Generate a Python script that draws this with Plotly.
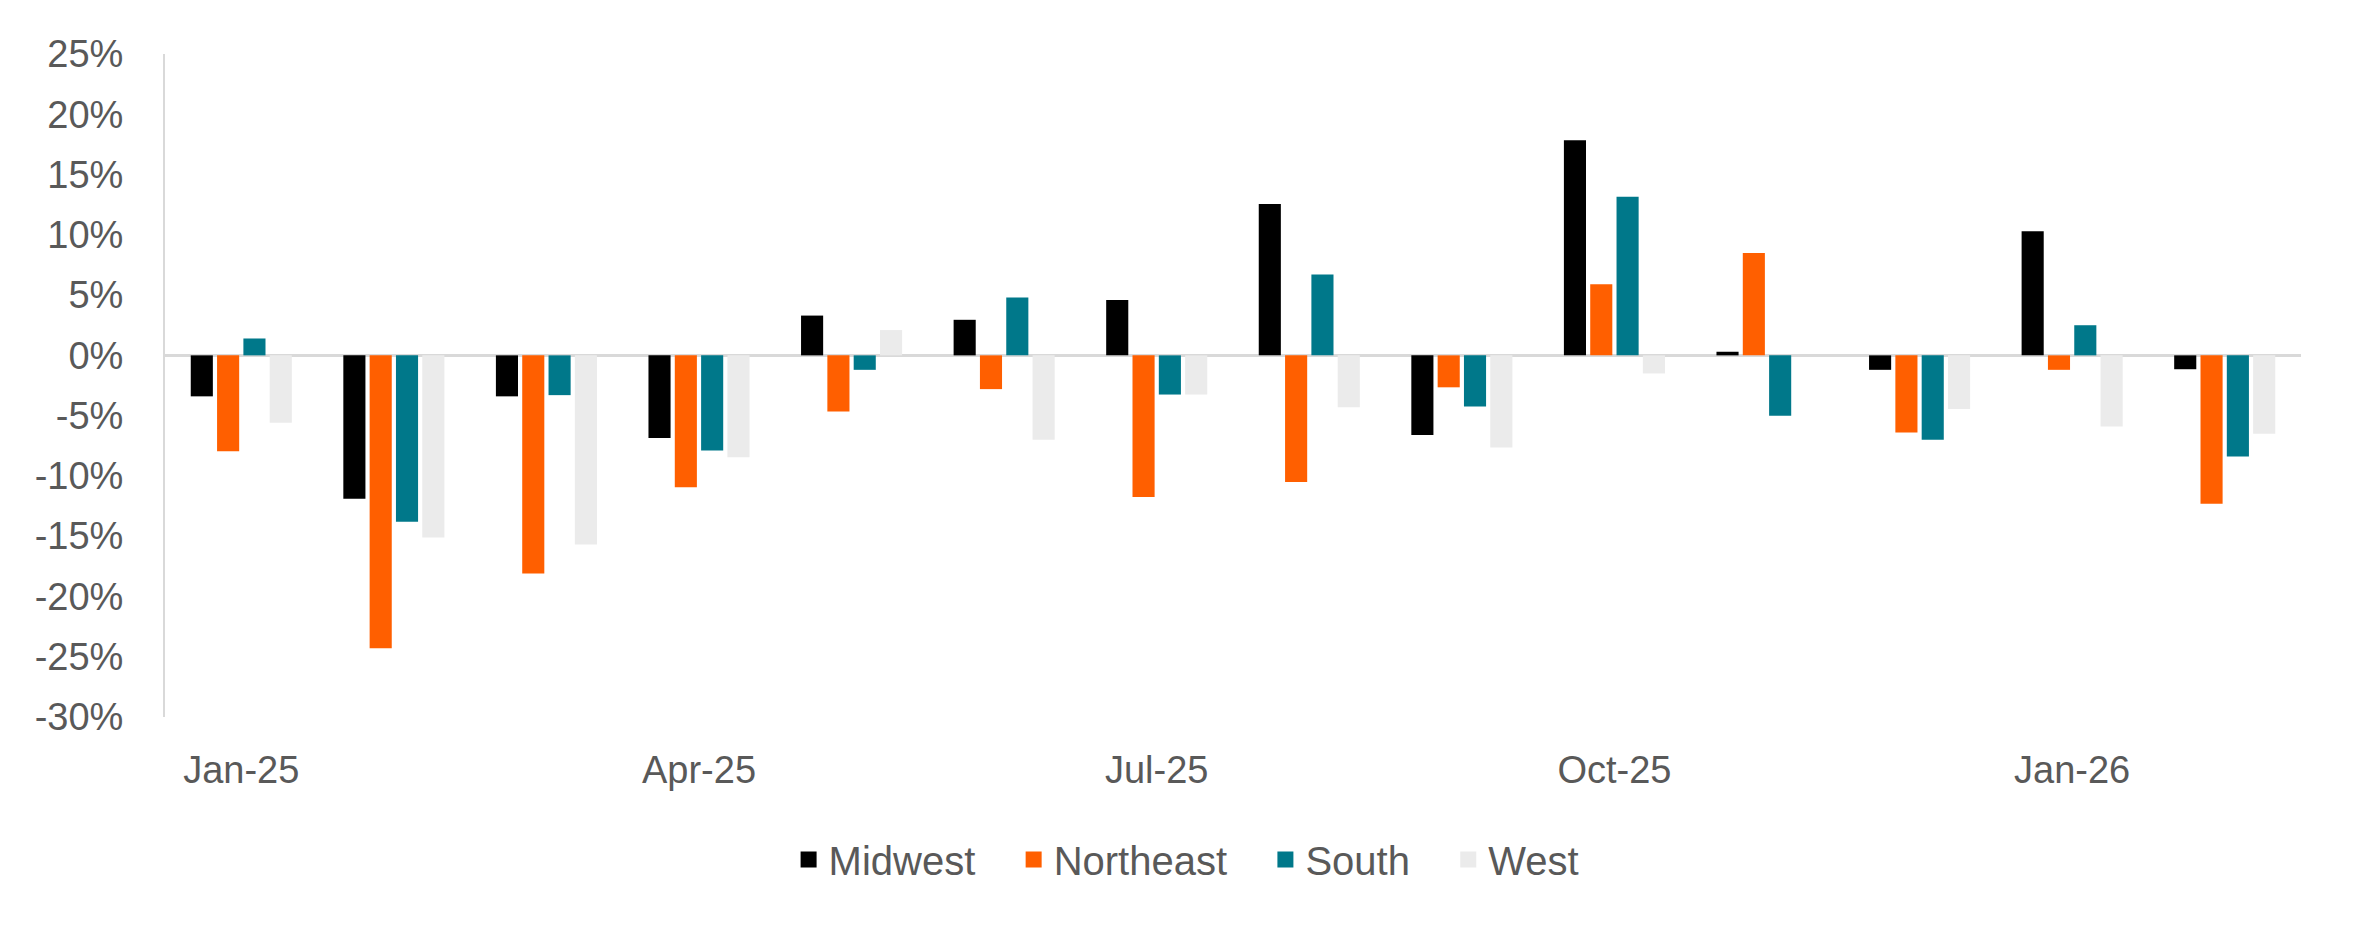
import plotly.graph_objects as go

# monthly % change by region
months = ["Jan-25", "Feb-25", "Mar-25", "Apr-25", "May-25", "Jun-25", "Jul-25",
          "Aug-25", "Sep-25", "Oct-25", "Nov-25", "Dec-25", "Jan-26", "Feb-26"]

midwest = [-3.4, -11.9, -3.4, -6.85, 3.3, 2.95, 4.6, 12.55, -6.6, 17.85, 0.3, -1.2, 10.3, -1.15]
northeast = [-7.95, -24.3, -18.1, -10.95, -4.65, -2.8, -11.75, -10.5, -2.65, 5.9, 8.5, -6.4, -1.2, -12.3]
south = [1.4, -13.8, -3.3, -7.9, -1.2, 4.8, -3.25, 6.7, -4.25, 13.15, -5.0, -7.0, 2.5, -8.4]
west = [-5.6, -15.1, -15.7, -8.45, 2.1, -7.0, -3.25, -4.3, -7.65, -1.5, 0.0, -4.45, -5.9, -6.5]

x_ticks = ["Jan-25", "Apr-25", "Jul-25", "Oct-25", "Jan-26"]
y_ticks = [25, 20, 15, 10, 5, 0, -5, -10, -15, -20, -25, -30]
y_labels = ["25%", "20%", "15%", "10%", "5%", "0%", "-5%", "-10%", "-15%", "-20%", "-25%", "-30%"]

series = [
    ("Midwest", midwest, "#000000"),
    ("Northeast", northeast, "#FF5F00"),
    ("South", south, "#00788A"),
    ("West", west, "#EBEBEB"),
]

fig = go.Figure()
for name, vals, color in series:
    fig.add_trace(go.Bar(x=months, y=vals, name=name, marker_color=color,
                         marker_line_width=0, legendgroup=name, showlegend=False))
    # legend entry only (bigger square than the bar legend glyph)
    fig.add_trace(go.Scatter(x=[None], y=[None], mode="markers", name=name + "\u00a0\u00a0\u00a0",
                             legendgroup=name,
                             marker=dict(symbol="square", size=22, color=color)))

font = dict(family="Liberation Sans, Arial, sans-serif", size=38, color="#595959")

# page body adds 8px margin, so the figure is 8px smaller than the window
fig.update_layout(
    width=2352, height=927,
    margin=dict(l=157, r=59, t=46, b=218),
    paper_bgcolor="white", plot_bgcolor="white",
    barmode="group", bargap=0.31, bargroupgap=0.16,
    font=font,
    showlegend=True,
    legend=dict(orientation="h", x=0.486, xanchor="center", y=-0.215, yanchor="middle",
                font=dict(size=40, color="#595959"), traceorder="normal",
                itemsizing="trace"),
)
fig.update_xaxes(
    type="category", tickvals=x_ticks, ticktext=x_ticks,
    showline=False, showgrid=False, zeroline=False, ticks="",
    ticklabelstandoff=27, tickangle=0,
)
fig.update_yaxes(
    range=[-30, 25], tickvals=y_ticks, ticktext=y_labels,
    showgrid=False, showline=True, linecolor="#D9D9D9", linewidth=2,
    zeroline=True, zerolinecolor="#D9D9D9", zerolinewidth=3,
    ticks="", ticklabelstandoff=32,
)

fig.write_html("out.html")
